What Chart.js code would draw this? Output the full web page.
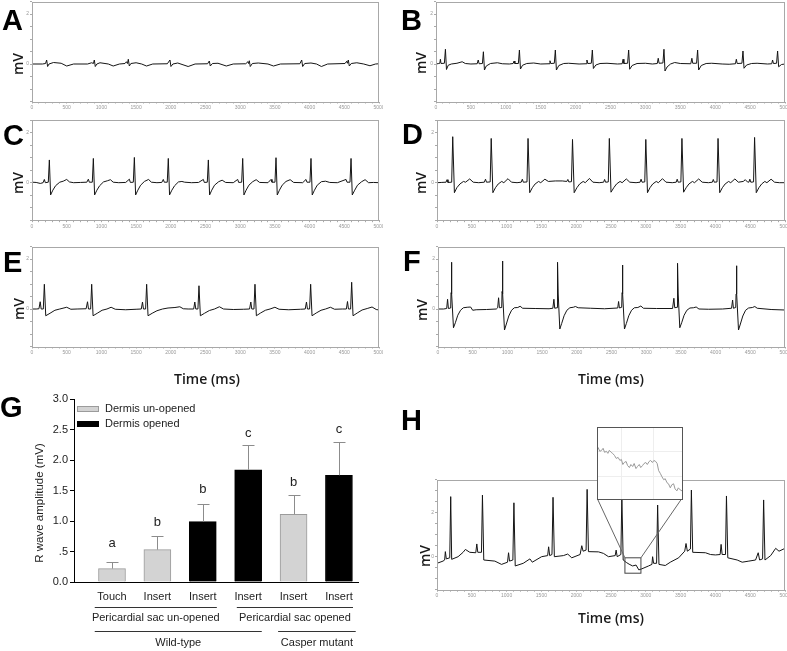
<!DOCTYPE html>
<html>
<head>
<meta charset="utf-8">
<script src="https://cdn.jsdelivr.net/npm/chart.js@4.4.1/dist/chart.umd.min.js"></script>
<style>
body { margin: 0; background: #fff; width: 787px; height: 651px; position: relative; overflow: hidden; }
canvas { position: absolute; }
</style>
</head>
<body>
<canvas id="cA"></canvas>
<canvas id="cB"></canvas>
<canvas id="cC"></canvas>
<canvas id="cD"></canvas>
<canvas id="cE"></canvas>
<canvas id="cF"></canvas>
<canvas id="cG"></canvas>
<canvas id="cH"></canvas>
<canvas id="cInset"></canvas>
<script>
// ECG traces, [time ms, mV]
const traceA = [[0,0],[150,0],[195,0.02],[211,0.16],[225,-0.1],[245,0],[310,0.06],[420,0.03],[500,-0.08],[600,0],[800,0],[860,0.05],[885,0.02],[898,0.16],[912,-0.1],[935,0],[980,0.05],[1100,0],[1170,-0.08],[1260,0],[1340,0.02],[1360,0.09],[1375,0.02],[1388,0.19],[1402,-0.08],[1425,0.02],[1500,0.05],[1580,0],[1650,-0.08],[1740,0],[1950,0.01],[1988,0.16],[2002,-0.1],[2030,0],[2100,0.04],[2250,-0.1],[2350,0],[2530,0.01],[2555,0.12],[2569,-0.08],[2600,0.02],[2680,0.03],[2800,-0.08],[2900,0],[3080,0.01],[3110,0.09],[3120,0.02],[3131,0.13],[3145,-0.1],[3175,0.02],[3260,0.04],[3400,0],[3480,-0.08],[3580,0],[3860,0.01],[3886,0.16],[3900,-0.1],[3930,0.02],[4020,0.04],[4100,0],[4170,-0.1],[4260,0],[4510,0.02],[4535,0.11],[4545,0.03],[4558,0.16],[4572,-0.08],[4600,0.02],[4680,0.05],[4780,0],[4870,-0.07],[4950,0],[5000,0.01]]

const traceB = [[0,0],[40,0.02],[55,0.03],[63,0.19],[72,0.02],[120,0.03],[135,0.59],[150,-0.22],[175,-0.05],[220,0],[300,0.03],[375,0.09],[420,0.02],[500,0],[590,0.01],[605,0.16],[618,0.01],[665,0.02],[679,0.49],[694,-0.24],[720,-0.08],[780,0.02],[880,0.05],[950,0.01],[1050,0],[1105,0.02],[1119,0.12],[1130,0.02],[1180,0.02],[1195,0.56],[1210,-0.2],[1240,-0.05],[1300,0.02],[1400,0.04],[1500,0],[1620,0.01],[1633,0.13],[1645,0.02],[1695,0.03],[1710,0.56],[1725,-0.24],[1760,-0.06],[1830,0.02],[1900,0.03],[2050,0],[2150,0.01],[2162,0.16],[2175,0.02],[2225,0.03],[2240,0.56],[2255,-0.18],[2290,-0.04],[2350,0.02],[2450,0.03],[2600,0],[2667,0.01],[2680,0.19],[2692,0.02],[2745,0.03],[2760,0.56],[2775,-0.21],[2810,-0.06],[2880,0.02],[3000,0.03],[3100,0],[3170,0.02],[3184,0.23],[3196,0.03],[3251,0.04],[3266,0.59],[3281,-0.28],[3310,-0.12],[3360,0],[3420,0.06],[3500,0.02],[3650,0.01],[3666,0.23],[3678,0.03],[3733,0.03],[3748,0.56],[3763,-0.24],[3800,-0.06],[3870,0.02],[3950,0.03],[4100,0],[4200,-0.01],[4290,0.01],[4303,0.19],[4315,0.02],[4383,0.03],[4398,0.52],[4413,-0.17],[4450,-0.04],[4520,0.02],[4600,0.03],[4750,0],[4810,0.01],[4822,0.16],[4835,0.02],[4879,0.03],[4894,0.52],[4909,-0.11],[4950,-0.02],[5000,0]]

const traceC = [[0,0.02],[60,0.01],[120,-0.03],[160,0],[178,0.13],[192,0],[235,0.02],[250,0.91],[268,-0.49],[300,-0.3],[340,-0.12],[400,0.02],[450,0.06],[500,0.13],[540,0.03],[600,0],[700,0.01],[790,0.02],[812,0.14],[826,0.02],[869,0.02],[884,0.97],[902,-0.49],[935,-0.3],[975,-0.12],[1030,0.03],[1090,0.08],[1130,0.12],[1170,0.02],[1250,0],[1350,0.01],[1403,0.14],[1417,0.01],[1460,0.02],[1475,1.01],[1493,-0.49],[1525,-0.3],[1565,-0.1],[1620,0.05],[1680,0.13],[1720,0.02],[1800,0],[1870,0.01],[1892,0.13],[1906,0.02],[1949,0.02],[1964,0.97],[1982,-0.49],[2015,-0.3],[2055,-0.12],[2110,0.03],[2160,0.05],[2200,0.02],[2300,0],[2400,0.01],[2469,0.13],[2483,0.01],[2526,0.02],[2541,0.91],[2559,-0.49],[2590,-0.3],[2630,-0.1],[2690,0.04],[2740,0.1],[2790,0.01],[2900,0],[2964,0.13],[2978,0.01],[3021,0.02],[3036,0.97],[3054,-0.49],[3085,-0.3],[3125,-0.1],[3180,0.04],[3230,0.12],[3280,0.01],[3400,0],[3444,0.13],[3458,0.02],[3501,0.02],[3516,1.0],[3534,-0.49],[3565,-0.3],[3605,-0.1],[3660,0.05],[3720,0.12],[3770,0.01],[3900,0],[3948,0.13],[3962,0.02],[4005,0.02],[4020,0.97],[4038,-0.49],[4070,-0.3],[4110,-0.1],[4170,0.04],[4230,0.06],[4290,0.01],[4400,0],[4525,0.13],[4539,0.02],[4582,0.02],[4597,0.97],[4615,-0.49],[4650,-0.3],[4690,-0.1],[4750,0.04],[4800,0.12],[4850,0],[4920,0.01],[5000,0]]

const traceD = [[0,0],[60,0.01],[130,0.02],[144,0.12],[158,0.01],[211,0.02],[226,1.84],[250,-0.4],[285,-0.2],[330,-0.05],[380,0.05],[410,0.02],[470,0.15],[520,0.02],[600,0],[680,0.02],[697,0.14],[711,0.02],[764,0.03],[779,1.77],[803,-0.4],[840,-0.2],[880,-0.05],[930,0.05],[960,0],[1020,0.16],[1070,0.02],[1150,0],[1210,0.02],[1226,0.14],[1240,0.02],[1293,0.03],[1308,1.77],[1332,-0.4],[1370,-0.2],[1410,-0.05],[1460,0.05],[1490,0],[1550,0.14],[1600,0.05],[1700,0.07],[1800,0.07],[1865,0.05],[1880,0.13],[1894,0.03],[1932,0.04],[1947,1.73],[1971,-0.4],[2010,-0.2],[2050,-0.05],[2100,0.05],[2130,0],[2190,0.17],[2240,0.02],[2330,0],[2394,0.02],[2408,0.13],[2422,0.02],[2461,0.03],[2476,1.77],[2500,-0.38],[2540,-0.2],[2580,-0.05],[2630,0.05],[2660,0],[2720,0.15],[2770,0.02],[2860,0],[2918,0.02],[2932,0.14],[2946,0.02],[2985,0.03],[3000,1.73],[3024,-0.4],[3060,-0.2],[3100,-0.05],[3150,0.05],[3180,0],[3240,0.16],[3290,0.02],[3380,0],[3437,0.02],[3451,0.14],[3465,0.02],[3504,0.03],[3519,1.77],[3543,-0.38],[3580,-0.2],[3620,-0.05],[3670,0.05],[3700,0],[3760,0.15],[3810,0.02],[3900,0],[3956,0.02],[3970,0.13],[3984,0.02],[4023,0.03],[4038,1.77],[4062,-0.4],[4100,-0.2],[4140,-0.05],[4190,0.05],[4220,0],[4280,0.15],[4330,0.02],[4400,0.05],[4430,0.12],[4460,0.03],[4481,0.02],[4495,0.14],[4509,0.02],[4548,0.03],[4563,1.81],[4587,-0.4],[4625,-0.2],[4665,-0.05],[4710,0.05],[4740,0],[4800,0.14],[4850,0.02],[4920,0],[5000,0]]

const traceE = [[0,0],[60,0],[100,0.01],[118,0.29],[132,0],[163,0],[178,0.99],[198,-0.27],[260,-0.17],[330,-0.05],[400,0],[500,0.07],[560,-0.01],[650,0],[780,0.01],[800,0.29],[814,0],[845,0],[860,0.99],[880,-0.27],[940,-0.17],[1010,-0.05],[1080,0],[1140,0.07],[1200,-0.01],[1350,-0.03],[1500,-0.01],[1575,0],[1592,0.28],[1606,0],[1637,0],[1652,0.99],[1672,-0.27],[1732,-0.17],[1800,-0.07],[1880,0],[1960,0.04],[2060,0.06],[2130,0.09],[2180,0.01],[2250,0],[2330,0],[2346,0.28],[2360,0],[2391,0],[2406,0.93],[2426,-0.27],[2486,-0.17],[2556,-0.06],[2630,0],[2700,0.09],[2760,0],[2900,-0.02],[3050,-0.01],[3135,0],[3153,0.28],[3167,0],[3198,0],[3213,0.99],[3233,-0.27],[3293,-0.16],[3363,-0.05],[3430,0],[3500,0.07],[3560,-0.01],[3700,-0.03],[3870,-0.01],[3937,0],[3955,0.28],[3969,0],[4000,0],[4015,0.99],[4035,-0.27],[4095,-0.16],[4165,-0.05],[4230,0],[4300,0.07],[4360,-0.01],[4470,0],[4530,0],[4546,0.3],[4560,0],[4591,0],[4606,1.07],[4626,-0.27],[4686,-0.16],[4756,-0.04],[4830,0.02],[4900,0.08],[4960,-0.02],[5000,-0.04]]

const traceF = [[0,0],[80,0],[125,0.02],[138,0.39],[150,0.02],[183,0.04],[188,0.65],[193,1.87],[200,0.6],[223,-0.75],[250,-0.55],[285,-0.25],[325,-0.05],[365,0.05],[420,0.07],[470,0.08],[500,-0.05],[550,-0.03],[700,-0.02],[840,0],[860,0.05],[873,0.45],[885,0.05],[918,0.06],[923,0.7],[928,1.92],[935,0.6],[958,-0.84],[985,-0.6],[1020,-0.28],[1060,-0.05],[1100,0.05],[1150,0.06],[1183,0.11],[1220,0.03],[1400,0.02],[1600,0.01],[1655,0.03],[1670,0.39],[1682,0.03],[1715,0.05],[1720,0.65],[1725,1.87],[1732,0.6],[1755,-0.8],[1782,-0.58],[1817,-0.27],[1857,-0.05],[1900,0.05],[1950,0.07],[1980,0.1],[2020,0.05],[2200,0.03],[2400,0.01],[2590,0.04],[2602,0.3],[2614,0.04],[2647,0.07],[2652,0.65],[2657,1.76],[2664,0.6],[2687,-0.8],[2714,-0.58],[2749,-0.27],[2789,-0.05],[2830,0.05],[2880,0.06],[2923,0.12],[2960,0.03],[3150,0.02],[3380,0.02],[3399,0.43],[3411,0.05],[3444,0.07],[3449,0.65],[3454,1.83],[3461,0.6],[3484,-0.75],[3511,-0.55],[3546,-0.25],[3586,-0.05],[3630,0.04],[3680,0.05],[3720,0.08],[3760,0],[3900,-0.01],[4100,0],[4230,0.03],[4245,0.36],[4257,0.03],[4290,0.06],[4295,0.6],[4300,1.73],[4307,0.6],[4330,-0.84],[4357,-0.6],[4392,-0.28],[4432,-0.05],[4475,0.04],[4530,0.06],[4565,0.1],[4600,0.03],[4800,-0.02],[5000,-0.04]]

const traceH = [[0,-0.3],[86,-0.2],[110,-0.15],[120,0.23],[134,-0.1],[183,-0.05],[197,2.73],[211,-0.12],[303,0],[375,0.2],[408,0.33],[471,0.2],[557,0.18],[572,0.58],[586,0.2],[639,0.2],[653,2.8],[672,-0.15],[831,-0.2],[927,-0.35],[1013,-0.25],[1028,0.18],[1042,-0.2],[1090,-0.15],[1105,2.45],[1124,-0.42],[1239,-0.3],[1335,-0.1],[1369,-0.25],[1503,0],[1590,0.05],[1604,0.45],[1619,0.05],[1652,0.1],[1667,2.7],[1686,0],[1816,0.05],[1878,0.12],[1936,-0.05],[2056,0.1],[2080,0.5],[2099,0.25],[2142,0.3],[2157,3.06],[2176,0.23],[2320,0.22],[2392,0.15],[2464,0],[2560,0.05],[2574,0.3],[2589,0],[2642,0.1],[2656,2.75],[2675,-0.15],[2720,-0.26],[2760,-0.34],[2810,-0.42],[2860,-0.38],[2900,-0.6],[2944,-0.55],[3040,-0.42],[3088,-0.35],[3098,0],[3112,-0.3],[3155,-0.3],[3170,2.35],[3189,-0.35],[3280,-0.4],[3352,-0.25],[3472,-0.05],[3559,0.25],[3578,0.6],[3597,0.25],[3641,0.35],[3655,3.03],[3674,0.2],[3857,0.18],[3929,0.1],[4001,0.08],[4068,0.1],[4082,0.56],[4097,0.1],[4145,0.1],[4159,2.76],[4178,-0.05],[4313,-0.15],[4385,-0.25],[4481,-0.2],[4577,-0.15],[4615,0.18],[4635,-0.15],[4678,-0.1],[4693,2.58],[4712,-0.15],[4794,0.05],[4866,0.38],[4914,0.25],[5000,0.38]]

// magnified stretch of H
const insetTrace = [[2700,-0.24],[2705,-0.28],[2710,-0.27],[2714,-0.25],[2718,-0.29],[2723,-0.28],[2727,-0.3],[2731,-0.27],[2736,-0.29],[2740,-0.3],[2745,-0.32],[2750,-0.35],[2755,-0.34],[2760,-0.37],[2764,-0.36],[2768,-0.41],[2772,-0.39],[2777,-0.38],[2781,-0.42],[2786,-0.44],[2790,-0.41],[2795,-0.43],[2799,-0.4],[2804,-0.45],[2808,-0.43],[2813,-0.41],[2817,-0.44],[2822,-0.42],[2826,-0.4],[2831,-0.39],[2835,-0.41],[2840,-0.38],[2844,-0.37],[2849,-0.39],[2853,-0.37],[2858,-0.38],[2862,-0.4],[2866,-0.47],[2871,-0.5],[2875,-0.53],[2880,-0.56],[2884,-0.55],[2889,-0.59],[2893,-0.6],[2898,-0.64],[2902,-0.61],[2907,-0.6],[2911,-0.65],[2916,-0.67],[2920,-0.64],[2925,-0.66],[2930,-0.67]]
const zoomBox = [2700, 2930, -0.75, -0.05]

// panel G
const categories = ['Touch', 'Insert', 'Insert', 'Insert', 'Insert', 'Insert']
const rWave = [0.22, 0.53, 0.99, 1.84, 1.11, 1.75]
const rWaveErr = [0.11, 0.22, 0.29, 0.40, 0.31, 0.54]
const dermisOpened = [false, false, true, true, false, true]
const sigLetters = ['a', 'b', 'b', 'c', 'b', 'c']
const sigHeights = [0.64, 0.97, 1.52, 2.44, 1.64, 2.5]
const groupRow1 = [['Pericardial sac un-opened', 0.62, 3.31], ['Pericardial sac opened', 3.75, 6.31]]
const groupRow2 = [['Wild-type', 0.62, 4.3], ['Casper mutant', 4.66, 6.37]]

const labelFont = '"Liberation Sans", Arial, sans-serif'
const titleFont = '"Open Sans", "DejaVu Sans", sans-serif'

const place = (id, box) => {
    const cv = document.getElementById(id)
    cv.width = box[2]
    cv.height = box[3]
    cv.style.left = box[0] + 'px'
    cv.style.top = box[1] + 'px'
    return cv
}

const panels = [
    {id: 'cA', letter: 'A', trace: traceA, box: [0, 0, 383, 114], frame: [32, 1.5, 379, 101.5], yMin: -1.5, yMax: 2.5, letterAt: [2, 30], mvAt: [19, 64]},
    {id: 'cB', letter: 'B', trace: traceB, box: [395, 0, 392, 114], frame: [436, 1.5, 785, 101.5], yMin: -1.5, yMax: 2.5, letterAt: [401, 30], mvAt: [422, 63]},
    {id: 'cC', letter: 'C', trace: traceC, box: [0, 116, 383, 118], frame: [32, 120.2, 379, 220.2], yMin: -1.5, yMax: 2.5, letterAt: [3, 145], mvAt: [19, 183]},
    {id: 'cD', letter: 'D', trace: traceD, box: [395, 116, 392, 118], frame: [437, 120.2, 785, 220.2], yMin: -1.5, yMax: 2.5, letterAt: [402, 144], mvAt: [422, 183]},
    {id: 'cE', letter: 'E', trace: traceE, box: [0, 242, 383, 150], frame: [32, 246.5, 379, 346.5], yMin: -1.5, yMax: 2.5, letterAt: [3, 272], mvAt: [20, 309], timeAt: [207, 380]},
    {id: 'cF', letter: 'F', trace: traceF, box: [395, 242, 392, 150], frame: [438, 246.5, 785, 346.5], yMin: -1.5, yMax: 2.5, letterAt: [403, 271], mvAt: [423, 310], timeAt: [611, 380]},
    {id: 'cH', letter: 'H', trace: traceH, box: [395, 400, 392, 251], frame: [437, 479.7, 785, 589.7], yMin: -1.5, yMax: 3.5, letterAt: [401, 430], mvAt: [426, 556], timeAt: [611, 619], zoom: true}
]

const insetBox = [597, 427, 86, 73]

const makeEcg = (p) => {
    const [bx, by, bw, bh] = p.box
    const [fl, ft, fr, fb] = p.frame
    const cv = place(p.id, p.box)

    const deco = {
        id: 'deco',
        afterDraw: (chart) => {
            const ctx = chart.ctx
            const a = chart.chartArea
            ctx.save()
            ctx.strokeStyle = '#a8a8a8'
            ctx.lineWidth = 1
            ctx.strokeRect(Math.round(a.left) + 0.5, Math.round(a.top) + 0.5, Math.round(a.right - a.left) - 1, Math.round(a.bottom - a.top))

            ctx.fillStyle = '#000'
            ctx.font = `bold 29px ${labelFont}`
            ctx.textAlign = 'left'
            ctx.textBaseline = 'alphabetic'
            ctx.fillText(p.letter, p.letterAt[0] - bx, p.letterAt[1] - by)

            ctx.fillStyle = '#1a1a1a'
            ctx.font = `600 14px ${titleFont}`
            ctx.textAlign = 'center'
            ctx.textBaseline = 'middle'
            if (p.timeAt) ctx.fillText('Time (ms)', p.timeAt[0] - bx, p.timeAt[1] - by)
            ctx.translate(p.mvAt[0] - bx, p.mvAt[1] - by)
            ctx.rotate(-Math.PI / 2)
            ctx.fillText('mV', 0, 0)
            ctx.restore()

            if (p.zoom) {
                const x = chart.scales.x
                const y = chart.scales.y
                const x0 = x.getPixelForValue(zoomBox[0])
                const x1 = x.getPixelForValue(zoomBox[1])
                const y0 = y.getPixelForValue(zoomBox[3])
                const y1 = y.getPixelForValue(zoomBox[2])
                ctx.save()
                ctx.strokeStyle = '#444'
                ctx.lineWidth = 1
                ctx.strokeRect(x0, y0, x1 - x0, y1 - y0)
                const ibx = insetBox[0] - bx
                const iby = insetBox[1] + insetBox[3] - 1 - by
                ctx.strokeStyle = '#666'
                ctx.beginPath()
                ctx.moveTo(ibx + 0.5, iby)
                ctx.lineTo(x0, y0)
                ctx.moveTo(ibx + insetBox[2] - 1.5, iby)
                ctx.lineTo(x1, y0)
                ctx.stroke()
                ctx.restore()
            }
        }
    }

    return new Chart(cv, {
        type: 'line',
        data: {
            datasets: [{
                data: p.trace.map(([x, y]) => ({x, y})),
                borderColor: '#151515',
                borderWidth: 1,
                pointRadius: 0,
                tension: 0
            }]
        },
        options: {
            responsive: false,
            animation: false,
            devicePixelRatio: 1,
            layout: {padding: {left: fl - bx - 10, top: ft - by, right: bx + bw - fr, bottom: by + bh - fb - 11}},
            scales: {
                x: {
                    type: 'linear', min: 0, max: 5000,
                    afterFit: (s) => { s.height = 11; s.paddingLeft = 0; s.paddingRight = 0 },
                    border: {display: false},
                    grid: {drawOnChartArea: false, tickLength: 2, color: '#aaa'},
                    ticks: {stepSize: 100, maxTicksLimit: 60, autoSkip: false, maxRotation: 0, minRotation: 0, padding: 1,
                        color: '#999', font: {size: 5, family: labelFont},
                        callback: (v) => v % 500 === 0 ? v : ''}
                },
                y: {
                    min: p.yMin, max: p.yMax,
                    afterFit: (s) => { s.width = 10; s.paddingTop = 0; s.paddingBottom = 0 },
                    border: {display: false},
                    grid: {drawOnChartArea: false, tickLength: 2, color: '#aaa'},
                    ticks: {stepSize: 0.5, autoSkip: false, padding: 1, color: '#999', font: {size: 5, family: labelFont},
                        callback: (v) => (v === 0 || v === 2) ? v : ''}
                }
            },
            plugins: {legend: {display: false}, tooltip: {enabled: false}}
        },
        plugins: [deco]
    })
}

panels.forEach(makeEcg)

// inset of H
const insetCv = place('cInset', insetBox)
new Chart(insetCv, {
    type: 'line',
    data: {
        datasets: [{
            data: insetTrace.map(([x, y]) => ({x, y})),
            borderColor: '#9a9a9a',
            borderWidth: 1,
            pointRadius: 0,
            tension: 0
        }]
    },
    options: {
        responsive: false,
        animation: false,
        devicePixelRatio: 1,
        layout: {padding: 1},
        scales: {
            x: {type: 'linear', display: false, min: zoomBox[0], max: zoomBox[1]},
            y: {display: false, min: zoomBox[2], max: zoomBox[3]}
        },
        plugins: {legend: {display: false}, tooltip: {enabled: false}}
    },
    plugins: [{
        id: 'insetFrame',
        beforeDraw: (chart) => {
            const ctx = chart.ctx
            const {x, y} = chart.scales
            ctx.save()
            ctx.fillStyle = '#fff'
            ctx.fillRect(0, 0, chart.width, chart.height)
            ctx.strokeStyle = '#eeeeee'
            ctx.beginPath()
            ;[2764, 2850].forEach(v => {
                const px = Math.round(x.getPixelForValue(v)) + 0.5
                ctx.moveTo(px, 1); ctx.lineTo(px, chart.height - 1)
            })
            ;[-0.28, -0.52].forEach(v => {
                const py = Math.round(y.getPixelForValue(v)) + 0.5
                ctx.moveTo(1, py); ctx.lineTo(chart.width - 1, py)
            })
            ctx.stroke()
            ctx.restore()
        },
        afterDraw: (chart) => {
            const ctx = chart.ctx
            ctx.save()
            ctx.strokeStyle = '#555'
            ctx.lineWidth = 1
            ctx.strokeRect(0.5, 0.5, chart.width - 1, chart.height - 1)
            ctx.restore()
        }
    }]
})

// panel G: bar chart
const gBox = [0, 390, 395, 261]
const gCv = place('cG', gBox)
const gOrigin = [gBox[0], gBox[1]]

const gDeco = {
    id: 'gDeco',
    afterDraw: (chart) => {
        const ctx = chart.ctx
        const {x, y} = chart.scales
        const oy = gOrigin[1]
        ctx.save()

        // error bars
        ctx.strokeStyle = '#8c8c8c'
        ctx.lineWidth = 1
        rWave.forEach((v, i) => {
            const px = Math.round(x.getPixelForValue(i + 1)) + 0.5
            const top = Math.round(y.getPixelForValue(v + rWaveErr[i])) + 0.5
            const base = y.getPixelForValue(v)
            ctx.beginPath()
            ctx.moveTo(px, base)
            ctx.lineTo(px, top)
            ctx.moveTo(px - 6, top)
            ctx.lineTo(px + 6, top)
            ctx.stroke()
        })

        // significance letters
        ctx.fillStyle = '#222'
        ctx.font = `13px ${labelFont}`
        ctx.textAlign = 'center'
        ctx.textBaseline = 'middle'
        sigLetters.forEach((t, i) => {
            ctx.fillText(t, x.getPixelForValue(i + 1), y.getPixelForValue(sigHeights[i]))
        })

        // legend
        ctx.font = `11px ${labelFont}`
        ctx.textAlign = 'left'
        chart.data.datasets.forEach((ds, i) => {
            const ly = 409 + i * 15 - oy
            ctx.fillStyle = ds.backgroundColor
            ctx.fillRect(77, ly - 3, 22, 6)
            ctx.strokeStyle = ds.borderColor
            ctx.strokeRect(77.5, ly - 2.5, 21, 5)
            ctx.fillStyle = '#222'
            ctx.fillText(ds.label, 105, ly)
        })

        // grouping rows under the axis
        ctx.strokeStyle = '#333'
        ctx.fillStyle = '#222'
        ctx.textAlign = 'center'
        const drawRow = (row, lineY, textY) => {
            row.forEach(([label, from, to]) => {
                const a = x.getPixelForValue(from)
                const b = x.getPixelForValue(to)
                ctx.beginPath()
                ctx.moveTo(a, lineY - oy + 0.5)
                ctx.lineTo(b, lineY - oy + 0.5)
                ctx.stroke()
                ctx.fillText(label, (a + b) / 2, textY - oy)
            })
        }
        drawRow(groupRow1, 607, 618)
        drawRow(groupRow2, 631, 643)

        // y axis title
        ctx.translate(40, 503 - oy)
        ctx.rotate(-Math.PI / 2)
        ctx.font = `11.5px ${labelFont}`
        ctx.fillText('R wave amplitude (mV)', 0, 0)
        ctx.restore()

        ctx.save()
        ctx.fillStyle = '#000'
        ctx.font = `bold 29px ${labelFont}`
        ctx.textAlign = 'left'
        ctx.textBaseline = 'alphabetic'
        ctx.fillText('G', 0, 417 - oy)
        ctx.restore()
    }
}

new Chart(gCv, {
    type: 'bar',
    data: {
        datasets: [
            {
                label: 'Dermis un-opened',
                data: rWave.map((v, i) => ({x: i + 1, y: v})).filter((d, i) => !dermisOpened[i]),
                backgroundColor: '#d3d3d3',
                borderColor: '#9b9b9b',
                borderWidth: 1,
                barThickness: 27,
                grouped: false
            },
            {
                label: 'Dermis opened',
                data: rWave.map((v, i) => ({x: i + 1, y: v})).filter((d, i) => dermisOpened[i]),
                backgroundColor: '#000',
                borderColor: '#000',
                borderWidth: 1,
                barThickness: 27,
                grouped: false
            }
        ]
    },
    options: {
        responsive: false,
        animation: false,
        devicePixelRatio: 1,
        layout: {padding: {left: 44, top: 9, right: 37, bottom: 45}},
        scales: {
            x: {
                type: 'linear', min: 0.163, max: 6.42, offset: false,
                afterBuildTicks: (s) => { s.ticks = categories.map((c, i) => ({value: i + 1})) },
                afterFit: (s) => { s.height = 24; s.paddingLeft = 0; s.paddingRight = 0 },
                border: {color: '#000', width: 1},
                grid: {display: false, drawTicks: false},
                ticks: {autoSkip: false, maxRotation: 0, minRotation: 0, padding: 8, color: '#222',
                    font: {size: 11, family: labelFont},
                    callback: (v, i) => categories[i]}
            },
            y: {
                min: 0, max: 3,
                afterFit: (s) => { s.width = 30; s.paddingTop = 0; s.paddingBottom = 0 },
                border: {color: '#000', width: 1},
                grid: {drawOnChartArea: false, tickLength: 4, color: '#000'},
                ticks: {stepSize: 0.5, padding: 2, color: '#222', font: {size: 11, family: labelFont},
                    callback: (v) => v === 0.5 ? '.5' : v.toFixed(1)}
            }
        },
        plugins: {legend: {display: false}, tooltip: {enabled: false}}
    },
    plugins: [gDeco]
})
</script>
</body>
</html>
